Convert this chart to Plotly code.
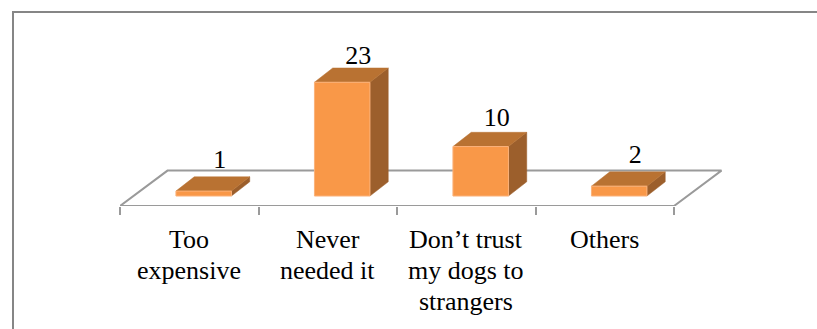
import plotly.graph_objects as go

categories = ["Too<br>expensive", "Never<br>needed it", "Don’t trust<br>my dogs to<br>strangers", "Others"]
values = [1, 23, 10, 2]
positions = [0, 1, 2, 3]

W, H = 817, 329
PL, PR, PT, PB = 120, 722, 20, 206.5
PX_CAT = 138.5
PX_VAL = 4.96
BAR_W = 55.5 / PX_CAT
DX = 18.3 / PX_CAT
DY = 14.3 / PX_VAL
FLOOR_DX = 47.5 / PX_CAT
FLOOR_DY = 35.5 / PX_VAL
BASE_F = 0.304

xmin = -0.5
xmax = xmin + (PR - PL) / PX_CAT
ymin = 0 - (PB - 196.5) / PX_VAL
ymax = ymin + (PB - PT) / PX_VAL
floor_bottom = -(PB - 196.5) / PX_VAL

FRONT, TOP, SIDE = "#F99848", "#B97232", "#9C5F2C"
GRAY = "#9A9A9A"

fig = go.Figure()
fx = [xmin, xmin + 4, xmin + 4 + FLOOR_DX, xmin + FLOOR_DX, xmin]
fy = [ymin, ymin, ymin + FLOOR_DY, ymin + FLOOR_DY, ymin]
fig.add_trace(go.Scatter(x=fx, y=fy, mode="lines", line=dict(color=GRAY, width=2),
                         hoverinfo="skip", showlegend=False, cliponaxis=False))

shift = BASE_F * FLOOR_DX
for p, v in zip(positions, values):
    x0 = p - BAR_W / 2 + shift
    x1 = p + BAR_W / 2 + shift
    fig.add_trace(go.Scatter(x=[x1, x1 + DX, x1 + DX, x1, x1], y=[0, DY, v + DY, v, 0],
                             fill="toself", fillcolor=SIDE, mode="lines",
                             line=dict(color=SIDE, width=0.5), showlegend=False, hoverinfo="skip"))
    fig.add_trace(go.Scatter(x=[x0, x1, x1 + DX, x0 + DX, x0], y=[v, v, v + DY, v + DY, v],
                             fill="toself", fillcolor=TOP, mode="lines",
                             line=dict(color=TOP, width=0.5), showlegend=False, hoverinfo="skip"))
    fig.add_trace(go.Scatter(x=[x0, x1, x1, x0, x0], y=[0, 0, v, v, 0],
                             fill="toself", fillcolor=FRONT, mode="lines",
                             line=dict(color="#FBB27A", width=1), showlegend=False, hoverinfo="skip"))

LABEL_LIFT = 0.5
fig.add_trace(go.Scatter(
    x=[p + shift + 16 / PX_CAT for p in positions],
    y=[v * 0.953 + DY + LABEL_LIFT for v in values],
    mode="text", text=[str(v) for v in values], textposition="top center",
    textfont=dict(family="Liberation Serif", size=26, color="#000000"),
    showlegend=False, hoverinfo="skip", cliponaxis=False))

# category labels, one annotation per line so that the line spacing can be tight
LINE_PX = 31
FIRST_LINE_CENTER = 240
annotations = []
for p, label in zip(positions, categories):
    for i, part in enumerate(label.split("<br>")):
        annotations.append(dict(
            x=p, xref="x", yref="paper", yanchor="middle", xanchor="center", showarrow=False,
            y=(PB - (FIRST_LINE_CENTER + i * LINE_PX)) / (PB - PT), text=part,
            font=dict(family="Liberation Serif", size=26, color="#000000")))

px_x = lambda px: (px - PL) / (PR - PL)
px_y = lambda px: (PB - px) / (PB - PT)

fig.update_layout(
    width=W, height=H, margin=dict(l=PL, r=W - PR, t=PT, b=H - PB),
    paper_bgcolor="white", plot_bgcolor="rgba(0,0,0,0)",
    font=dict(family="Liberation Serif", color="#000000"),
    xaxis=dict(range=[xmin, xmax], tickmode="array", tickvals=positions,
               ticks="", showticklabels=False, showgrid=False, zeroline=False, showline=False,
               minor=dict(tickmode="array", tickvals=[xmin + i for i in range(5)], ticks="outside",
                          ticklen=8, tickwidth=1.5, tickcolor=GRAY, showgrid=False)),
    yaxis=dict(range=[ymin, ymax], visible=False),
    annotations=annotations,
    shapes=[
        dict(type="line", xref="paper", yref="paper", layer="below",
             x0=px_x(13), x1=px_x(13), y0=px_y(11), y1=px_y(340), line=dict(color="#868686", width=2)),
        dict(type="line", xref="paper", yref="paper", layer="below",
             x0=px_x(12), x1=px_x(830), y0=px_y(12), y1=px_y(12), line=dict(color="#868686", width=2)),
    ],
)
fig.write_html("out.html", config={"displayModeBar": False}, post_script="document.body.style.margin='0';")
